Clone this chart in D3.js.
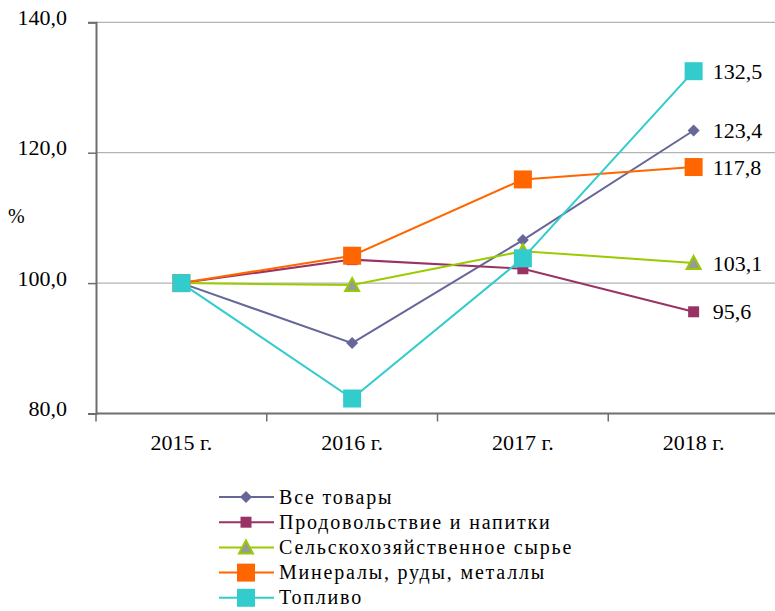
<!DOCTYPE html>
<html>
<head>
<meta charset="utf-8">
<script src="https://cdn.jsdelivr.net/npm/d3@7"></script>
<style>
  body { margin: 0; background: #fff; }
  #chart { width: 775px; height: 611px; }
</style>
</head>
<body>
<div id="chart"></div>
<script>
const years = ['2015 г.', '2016 г.', '2017 г.', '2018 г.'];
const yTicks = [80, 100, 120, 140];

const allGoods = [100, 90.8, 106.6, 123.4];
const foodDrinks = [100, 103.6, 102.2, 95.6];
const agriRaw = [100, 99.7, 104.9, 103.1];
const minerals = [100, 104.2, 115.9, 117.8];
const fuel = [100, 82.3, 103.8, 132.5];

const seriesNames = [
  'Все товары',
  'Продовольствие и напитки',
  'Сельскохозяйственное сырье',
  'Минералы, руды, металлы',
  'Топливо',
];

const series = [
  { name: seriesNames[0], values: allGoods, color: '#666699', marker: 'diamond', size: 10, fill: '#666699' },
  { name: seriesNames[1], values: foodDrinks, color: '#993366', marker: 'square', size: 11, fill: '#993366' },
  { name: seriesNames[2], values: agriRaw, color: '#99cc00', marker: 'triangle', size: 12, fill: '#999999' },
  { name: seriesNames[3], values: minerals, color: '#ff6600', marker: 'square', size: 18, fill: '#ff6600' },
  { name: seriesNames[4], values: fuel, color: '#33cccc', marker: 'square', size: 18, fill: '#33cccc' },
];

const width = 775;
const height = 611;
const serif = '"Liberation Serif", "Times New Roman", serif';

const svg = d3.select('#chart')
  .append('svg')
  .attr('width', width)
  .attr('height', height);

const xScale = d3.scaleBand().domain(years).range([96, 779]).padding(0);
const yScale = d3.scaleLinear().domain([80, 140]).range([413.5, 22.3]);
const cx = (i) => xScale(years[i]) + xScale.bandwidth() / 2;

// grid lines
svg.append('g')
  .selectAll('line')
  .data(yTicks.filter((d) => d > 80))
  .enter()
  .append('line')
  .attr('x1', 96)
  .attr('x2', width)
  .attr('y1', (d) => yScale(d))
  .attr('y2', (d) => yScale(d))
  .attr('stroke', '#a0a0a0')
  .attr('stroke-width', 1);

// y axis
const gY = svg.append('g').attr('transform', 'translate(96,0)');
gY.call(d3.axisLeft(yScale).tickValues(yTicks).tickSize(8).tickPadding(21)
  .tickFormat((d) => d3.format('.1f')(d).replace('.', ',')));
gY.select('.domain').attr('stroke', '#6e6e6e').attr('stroke-width', 2);
gY.selectAll('.tick line').attr('stroke', '#6e6e6e').attr('stroke-width', 1.5);
gY.selectAll('.tick text')
  .style('font-family', serif)
  .style('font-size', '22px')
  .attr('dy', '0.1em')
  .attr('fill', '#000');

// x axis
const gX = svg.append('g').attr('transform', 'translate(0,' + yScale(80) + ')');
gX.call(d3.axisBottom(xScale).tickSize(0).tickPadding(21));
gX.select('.domain').remove();
gX.append('line')
  .attr('x1', 96).attr('x2', width)
  .attr('y1', 0).attr('y2', 0)
  .attr('stroke', '#6e6e6e').attr('stroke-width', 2);
gX.selectAll('.sep')
  .data(years)
  .enter()
  .append('line')
  .attr('class', 'sep')
  .attr('x1', (d) => xScale(d))
  .attr('x2', (d) => xScale(d))
  .attr('y1', 0)
  .attr('y2', 8)
  .attr('stroke', '#6e6e6e')
  .attr('stroke-width', 1.5);
gX.selectAll('.tick text')
  .style('font-family', serif)
  .style('font-size', '22px')
  .attr('fill', '#000');

svg.append('text')
  .attr('x', 8)
  .attr('y', 223)
  .style('font-family', serif)
  .style('font-size', '20px')
  .text('%');

function markerPath(type, size) {
  const h = size / 2;
  if (type === 'diamond') {
    return `M0,${-h - 1}L${h + 1},0L0,${h + 1}L${-h - 1},0Z`;
  }
  if (type === 'triangle') {
    return `M0,${-h - 1}L${h + 1},${h}L${-h - 1},${h}Z`;
  }
  return `M${-h},${-h}H${h}V${h}H${-h}Z`;
}

const line = d3.line()
  .x((d, i) => cx(i))
  .y((d) => yScale(d));

const seriesG = svg.append('g')
  .selectAll('g.series')
  .data(series)
  .enter()
  .append('g')
  .attr('class', 'series');

seriesG.append('path')
  .attr('d', (d) => line(d.values))
  .attr('fill', 'none')
  .attr('stroke', (d) => d.color)
  .attr('stroke-width', 2);

seriesG.selectAll('path.marker')
  .data((d) => d.values.map((v, i) => ({ v, i, s: d })))
  .enter()
  .append('path')
  .attr('class', 'marker')
  .attr('transform', (d) => 'translate(' + cx(d.i) + ',' + yScale(d.v) + ')')
  .attr('d', (d) => markerPath(d.s.marker, d.s.size))
  .attr('fill', (d) => d.s.fill)
  .attr('stroke', (d) => (d.s.marker === 'triangle' ? d.s.color : 'none'))
  .attr('stroke-width', 2);

// end value labels
svg.append('g')
  .selectAll('text')
  .data(series)
  .enter()
  .append('text')
  .attr('x', cx(3) + 19)
  .attr('y', (d) => yScale(d.values[3]))
  .attr('dy', '0.35em')
  .style('font-family', serif)
  .style('font-size', '22px')
  .text((d) => d3.format('.1f')(d.values[3]).replace('.', ','));

// legend
const legendG = svg.append('g').attr('transform', 'translate(219,497)');
const legendRow = legendG.selectAll('g')
  .data(series)
  .enter()
  .append('g')
  .attr('transform', (d, i) => 'translate(0,' + i * 25.2 + ')');

legendRow.append('line')
  .attr('x1', 0).attr('x2', 55)
  .attr('y1', 0).attr('y2', 0)
  .attr('stroke', (d) => d.color)
  .attr('stroke-width', 2);

legendRow.append('path')
  .attr('transform', 'translate(27,0)')
  .attr('d', (d) => markerPath(d.marker, d.size))
  .attr('fill', (d) => d.fill)
  .attr('stroke', (d) => (d.marker === 'triangle' ? d.color : 'none'))
  .attr('stroke-width', 2);

legendRow.append('text')
  .attr('x', 60)
  .attr('y', 0)
  .attr('dy', '0.33em')
  .style('font-family', serif)
  .style('font-size', '20px')
  .style('letter-spacing', '1.8px')
  .text((d) => d.name);
</script>
</body>
</html>
